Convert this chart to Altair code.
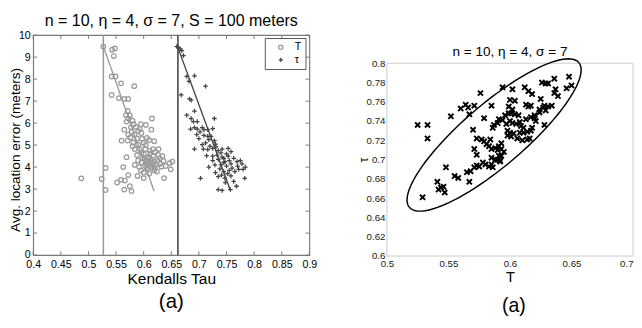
import altair as alt
import pandas as pd
import numpy as np

FONT = "Liberation Sans"

# ---------------- Left panel data ----------------
t_x = [0.527, 0.543, 0.548, 0.546, 0.542, 0.549, 0.559, 0.583, 0.542, 0.555, 0.565, 0.572,
       0.571, 0.568, 0.572, 0.569, 0.580, 0.615, 0.565, 0.577, 0.586, 0.593, 0.604, 0.614,
       0.572, 0.584, 0.596, 0.606, 0.571, 0.581, 0.597, 0.610, 0.619, 0.569, 0.584, 0.593,
       0.603, 0.611, 0.617, 0.627, 0.588, 0.600, 0.609, 0.617, 0.626, 0.634, 0.563, 0.531,
       0.584, 0.596, 0.607, 0.619, 0.630, 0.647, 0.652,
       0.487, 0.524, 0.531, 0.552, 0.559, 0.566, 0.572, 0.565, 0.575, 0.578, 0.589, 0.600,
       0.610, 0.619, 0.624, 0.637, 0.649,
       0.598, 0.602, 0.605, 0.608, 0.612, 0.615, 0.603, 0.606, 0.611, 0.614, 0.618, 0.622,
       0.625, 0.629, 0.632, 0.595, 0.592, 0.600, 0.620, 0.636, 0.640, 0.590, 0.596, 0.612,
       0.621, 0.580, 0.590, 0.600, 0.604, 0.576, 0.588, 0.578, 0.590, 0.575, 0.582, 0.595,
       0.560]
t_y = [9.48, 9.34, 9.40, 9.05, 8.12, 8.12, 7.81, 7.68, 7.28, 7.14, 7.10, 7.10,
       6.55, 6.36, 6.21, 6.07, 6.11, 6.21, 5.70, 5.81, 5.83, 5.74, 5.92, 5.70,
       5.48, 5.48, 5.55, 5.33, 5.21, 5.11, 5.29, 5.23, 5.18, 4.45, 4.82, 4.82,
       4.82, 4.75, 4.82, 4.82, 4.55, 4.60, 4.45, 4.52, 4.57, 4.50, 4.00, 3.96,
       4.10, 4.22, 4.15, 4.25, 4.15, 4.18, 4.25,
       3.49, 3.46, 2.96, 3.30, 3.42, 3.39, 3.64, 2.98, 3.13, 2.91, 3.60, 3.50,
       3.70, 3.85, 3.80, 3.50, 3.90,
       4.40, 4.35, 4.28, 4.38, 4.30, 4.20, 4.05, 3.95, 4.05, 3.98, 4.08, 4.12,
       4.30, 4.40, 4.02, 3.85, 4.00, 3.75, 3.95, 4.28, 4.05, 4.30, 4.65, 4.62,
       4.68, 4.95, 5.02, 5.10, 5.00, 5.35, 5.30, 5.60, 5.65, 6.35, 5.95, 5.95,
       5.20]

tau_x = [0.660, 0.663, 0.666, 0.669, 0.672, 0.678, 0.682, 0.692, 0.712, 0.668, 0.683, 0.686,
         0.692, 0.678, 0.686, 0.690, 0.697, 0.728, 0.685, 0.692, 0.697, 0.706, 0.709, 0.716,
         0.725, 0.696, 0.700, 0.709, 0.716, 0.718, 0.728, 0.692, 0.708, 0.716, 0.725, 0.731,
         0.742, 0.753, 0.714, 0.725, 0.733, 0.742, 0.753, 0.763, 0.718, 0.729, 0.740, 0.747,
         0.758, 0.769, 0.778, 0.784, 0.703, 0.735, 0.742, 0.757, 0.768, 0.783, 0.747, 0.741,
         0.735,
         0.725, 0.735, 0.745, 0.750, 0.755, 0.760, 0.765, 0.772, 0.745, 0.738, 0.730, 0.752,
         0.758, 0.750, 0.740, 0.758, 0.735, 0.720, 0.730, 0.722, 0.702, 0.712, 0.706, 0.745,
         0.755, 0.775, 0.770, 0.780, 0.763, 0.748]
tau_y = [9.48, 9.44, 9.37, 9.30, 9.07, 8.12, 7.90, 8.15, 7.68, 7.28, 7.10, 7.04,
         6.55, 6.36, 6.21, 6.07, 6.07, 6.21, 5.73, 5.80, 5.73, 5.80, 5.70, 5.70,
         5.75, 5.48, 5.30, 5.44, 5.40, 5.25, 5.20, 4.82, 4.82, 4.80, 4.85, 4.92,
         4.82, 4.85, 4.52, 4.50, 4.55, 4.45, 4.50, 4.40, 4.00, 4.10, 4.10, 4.25,
         4.15, 4.25, 4.15, 4.00, 3.49, 2.98, 2.94, 2.98, 3.13, 3.49, 3.50, 3.64,
         3.57,
         4.30, 4.35, 4.40, 4.05, 3.85, 3.95, 3.80, 3.90, 3.80, 3.92, 3.75, 3.70,
         3.60, 4.60, 4.65, 4.70, 4.75, 4.95, 5.05, 5.40, 5.60, 5.10, 5.02, 4.20,
         4.30, 4.30, 4.05, 3.90, 3.35, 3.30]

series_names = ["T", "τ"]
vline_x = [0.527, 0.662]                      # vertical reference lines
fit_x = [[0.527, 0.619], [0.661, 0.757]]      # fitted lines (start, end)
fit_y = [[9.5, 2.9], [9.5, 2.95]]

left_xticks = [0.4, 0.45, 0.5, 0.55, 0.6, 0.65, 0.7, 0.75, 0.8, 0.85, 0.9]
left_yticks = [0, 1, 2, 3, 4, 5, 6, 7, 8, 9, 10]
left_title = "n = 10, η = 4, σ = 7, S = 100 meters"

# ---------------- Right panel data ----------------
r_x = [0.525, 0.533, 0.533, 0.552, 0.560, 0.564, 0.566, 0.567, 0.571, 0.576, 0.570, 0.579, 0.585, 0.587, 0.591,
       0.573, 0.577, 0.579, 0.584, 0.583, 0.581, 0.585, 0.588, 0.590, 0.591, 0.593, 0.571, 0.573, 0.585, 0.588, 0.593,
       0.548, 0.555, 0.558, 0.565, 0.568, 0.571, 0.573, 0.575, 0.578, 0.580, 0.583, 0.586,
       0.594, 0.600, 0.599, 0.602, 0.604, 0.596, 0.599, 0.601, 0.604, 0.607, 0.597, 0.600, 0.602, 0.605, 0.608,
       0.598, 0.600, 0.603, 0.608, 0.611, 0.614, 0.617, 0.618,
       0.612, 0.615, 0.618, 0.613, 0.615, 0.617, 0.613, 0.617, 0.620, 0.624, 0.629, 0.631, 0.637, 0.636, 0.639,
       0.625, 0.628, 0.631, 0.634, 0.636, 0.628, 0.616, 0.648, 0.650, 0.646, 0.610, 0.614,
       0.529, 0.541, 0.542, 0.544, 0.546, 0.547, 0.567, 0.590, 0.592,
       0.602, 0.626, 0.624, 0.627, 0.629, 0.585, 0.592, 0.591, 0.594, 0.590, 0.586, 0.606, 0.601, 0.598,
       0.611, 0.621, 0.595, 0.593, 0.609, 0.620]
r_y = [0.736, 0.736, 0.722, 0.745, 0.753, 0.757, 0.754, 0.747, 0.756, 0.769, 0.731, 0.743, 0.756, 0.736, 0.742,
       0.722, 0.721, 0.719, 0.721, 0.714, 0.716, 0.711, 0.712, 0.710, 0.714, 0.717, 0.711, 0.705, 0.702, 0.700, 0.704,
       0.692, 0.683, 0.681, 0.687, 0.688, 0.692, 0.694, 0.693, 0.697, 0.695, 0.693, 0.692,
       0.775, 0.762, 0.755, 0.752, 0.761, 0.746, 0.748, 0.748, 0.747, 0.746, 0.737, 0.740, 0.738, 0.737, 0.739,
       0.730, 0.728, 0.727, 0.728, 0.728, 0.729, 0.730, 0.733,
       0.775, 0.771, 0.768, 0.757, 0.755, 0.756, 0.742, 0.744, 0.746, 0.749, 0.779, 0.779, 0.773, 0.769, 0.766,
       0.763, 0.756, 0.755, 0.756, 0.784, 0.736, 0.722, 0.786, 0.777, 0.774, 0.720, 0.721,
       0.661, 0.677, 0.669, 0.671, 0.672, 0.666, 0.677, 0.700, 0.698,
       0.773, 0.780, 0.752, 0.754, 0.751, 0.695, 0.699, 0.704, 0.741, 0.738, 0.733, 0.722, 0.724, 0.725,
       0.733, 0.740, 0.708, 0.711, 0.735, 0.743]

ell_center = (0.5871, 0.7256)
ell_major = (0.0688, 0.0751)
ell_minor = (0.0164, -0.0244)

right_xticks = [0.5, 0.55, 0.6, 0.65, 0.7]
right_yticks = [0.6, 0.62, 0.64, 0.66, 0.68, 0.7, 0.72, 0.74, 0.76, 0.78, 0.8]
right_title = "n = 10, η = 4, σ = 7"

# ---------------- styling ----------------
T_COLOR = "#9a9a9a"
TAU_COLOR = "#444444"
PLUS = "M-1,0L1,0M0,-1L0,1"
XMARK = "M-1,-1L1,1M-1,1L1,-1"
LEFT_FRAME = "#7a7a7a"

LW, LH = 285, 227          # left plot area
RW = 254                   # right plot width
RTOP, RBOT = 29, 228       # right frame top/bottom inside its (taller) cell

# ---------------- left panel ----------------
xs_l = alt.Scale(domain=[0.4, 0.9], nice=False, zero=False)
ys_l = alt.Scale(domain=[0, 10], nice=False, zero=False)
ax_lx = alt.Axis(values=left_xticks, format=".2~f", title="Kendalls Tau", titleFontSize=16,
                 labelFontSize=11, ticks=False, domain=False, grid=False, labelPadding=4,
                 titlePadding=1, labelFlush=False, labelOverlap=False, labelColor="black",
                 titleColor="black", titleFontWeight="normal", labelFont=FONT, titleFont=FONT)
ax_ly = alt.Axis(values=left_yticks, format="d", title="Avg. location error (meters)",
                 titleFontSize=14, labelFontSize=11, ticks=False, domain=False, grid=False,
                 labelPadding=3, labelOverlap=False, titleAngle=270, titleBaseline="bottom",
                 titleX=-11, titleY=118, labelColor="black", titleColor="black",
                 titleFontWeight="normal", labelFont=FONT, titleFont=FONT)

pts = pd.DataFrame({
    "x": t_x + tau_x,
    "y": t_y + tau_y,
    "s": ["T"] * len(t_x) + ["τ"] * len(tau_x),
})

legend = alt.Legend(title=None, orient="none", legendX=LW - 46, legendY=3, padding=4,
                    strokeColor="#555555", fillColor="white",
                    labelFontSize=11, labelFont=FONT, labelColor="black",
                    symbolSize=20, symbolStrokeWidth=1.3, rowPadding=1,
                    symbolOffset=7, labelOffset=9)

points = alt.Chart(pts).mark_point(filled=False, strokeWidth=1.3, size=22, opacity=1).encode(
    x=alt.X("x:Q", scale=xs_l, axis=ax_lx),
    y=alt.Y("y:Q", scale=ys_l, axis=ax_ly),
    color=alt.Color("s:N", scale=alt.Scale(domain=series_names, range=[T_COLOR, TAU_COLOR]),
                    legend=legend),
    shape=alt.Shape("s:N", scale=alt.Scale(domain=series_names, range=["circle", PLUS]),
                    legend=legend),
)

colors = [T_COLOR, TAU_COLOR]
layers_left = []
for i in range(2):
    layers_left.append(
        alt.Chart(pd.DataFrame({"x": [vline_x[i]]})).mark_rule(color=colors[i], strokeWidth=1.6)
        .encode(x=alt.X("x:Q", scale=xs_l, axis=ax_lx))
    )
    layers_left.append(
        alt.Chart(pd.DataFrame({"x": fit_x[i], "y": fit_y[i]})).mark_line(color=colors[i], strokeWidth=1.4)
        .encode(x=alt.X("x:Q", scale=xs_l, axis=ax_lx), y=alt.Y("y:Q", scale=ys_l, axis=ax_ly))
    )

# inward tick marks (MATLAB-style)
xt = pd.DataFrame({"x": left_xticks})
yt = pd.DataFrame({"y": left_yticks})
tick_layers = [
    alt.Chart(xt).mark_rule(color=LEFT_FRAME, strokeWidth=1).encode(
        x=alt.X("x:Q", scale=xs_l, axis=ax_lx), y=alt.value(LH), y2=alt.value(LH - 4)),
    alt.Chart(xt).mark_rule(color=LEFT_FRAME, strokeWidth=1).encode(
        x=alt.X("x:Q", scale=xs_l, axis=ax_lx), y=alt.value(0), y2=alt.value(4)),
    alt.Chart(yt).mark_rule(color=LEFT_FRAME, strokeWidth=1).encode(
        y=alt.Y("y:Q", scale=ys_l, axis=ax_ly), x=alt.value(0), x2=alt.value(4)),
    alt.Chart(yt).mark_rule(color=LEFT_FRAME, strokeWidth=1).encode(
        y=alt.Y("y:Q", scale=ys_l, axis=ax_ly), x=alt.value(LW - 4), x2=alt.value(LW)),
]

title_left = alt.Chart(pd.DataFrame({"t": [left_title]})).mark_text(
    fontSize=16.5, font=FONT, color="black", baseline="alphabetic", align="center"
).encode(text="t:N", x=alt.value(LW / 2), y=alt.value(-9))

cap_left = alt.Chart(pd.DataFrame({"t": ["(a)"]})).mark_text(
    fontSize=21, font=FONT, color="black", baseline="middle", align="center"
).encode(text="t:N", x=alt.value(LW / 2), y=alt.value(LH + 49))

left = alt.layer(points, *tick_layers, *layers_left, title_left, cap_left).properties(
    width=LW, height=LH,
    view=alt.ViewBackground(stroke=LEFT_FRAME, strokeWidth=1.2),
)

# ---------------- right panel ----------------
xs_r = alt.Scale(domain=[0.5, 0.7], nice=False, zero=False)
ys_r = alt.Scale(domain=[0.6, 0.8], nice=False, zero=False, range=[RBOT, RTOP])
ax_rx = alt.Axis(values=right_xticks, format=".2~f", title="T", titleFontSize=15, labelFontSize=10,
                 ticks=False, domain=False, grid=False, labelPadding=3, titlePadding=1,
                 labelFlush=False, labelOverlap=False, labelColor="#222222", titleColor="black",
                 labelAlign={"condition": {"test": "datum.value > 0.69", "value": "right"},
                             "value": "center"},
                 titleFontWeight="normal", labelFont=FONT, titleFont=FONT)
ax_ry = alt.Axis(values=right_yticks, format=".2~f", title="τ", titleFontSize=13, labelFontSize=10,
                 ticks=False, domain=False, grid=False, labelPadding=2, labelOverlap=False,
                 titleAngle=270, titleBaseline="bottom", titleX=-17, titleY=(RTOP + RBOT) / 2,
                 labelColor="#222222", titleColor="black", titleFontWeight="normal",
                 labelFont=FONT, titleFont=FONT)

frame = alt.Chart(pd.DataFrame({"f": [0]})).mark_rect(
    fillOpacity=0, stroke="#cccccc", strokeWidth=1
).encode(x=alt.value(0), x2=alt.value(RW), y=alt.value(RTOP), y2=alt.value(RBOT))

rpts = alt.Chart(pd.DataFrame({"x": r_x, "y": r_y})).mark_point(
    shape=XMARK, filled=False, strokeWidth=2, size=28, color="black", opacity=1
).encode(x=alt.X("x:Q", scale=xs_r, axis=ax_rx), y=alt.Y("y:Q", scale=ys_r, axis=ax_ry))

t = np.linspace(0, 2 * np.pi, 121)
ell_df = pd.DataFrame({
    "x": ell_center[0] + ell_major[0] * np.cos(t) + ell_minor[0] * np.sin(t),
    "y": ell_center[1] + ell_major[1] * np.cos(t) + ell_minor[1] * np.sin(t),
    "i": np.arange(len(t)),
})
ellipse = alt.Chart(ell_df).mark_line(color="black", strokeWidth=1.5).encode(
    x=alt.X("x:Q", scale=xs_r, axis=ax_rx), y=alt.Y("y:Q", scale=ys_r, axis=ax_ry), order="i:Q")

title_r = alt.Chart(pd.DataFrame({"t": [right_title]})).mark_text(
    fontSize=14, font=FONT, color="black", baseline="alphabetic", align="center"
).encode(text="t:N", x=alt.value(RW / 2), y=alt.value(RTOP - 7))

cap_right = alt.Chart(pd.DataFrame({"t": ["(a)"]})).mark_text(
    fontSize=20, font=FONT, color="black", baseline="middle", align="center"
).encode(text="t:N", x=alt.value(RW / 2 + 4), y=alt.value(RBOT + 52))

right = alt.layer(frame, rpts, ellipse, title_r, cap_right).properties(
    width=RW, height=RBOT,
    view=alt.ViewBackground(strokeOpacity=0),
)

chart = alt.hconcat(left, right, spacing=41).properties(
    padding={"left": 0, "top": 0, "right": 0, "bottom": 0}
).configure(background="white")

chart.save("out.html", embed_options={"renderer": "svg", "actions": False})
